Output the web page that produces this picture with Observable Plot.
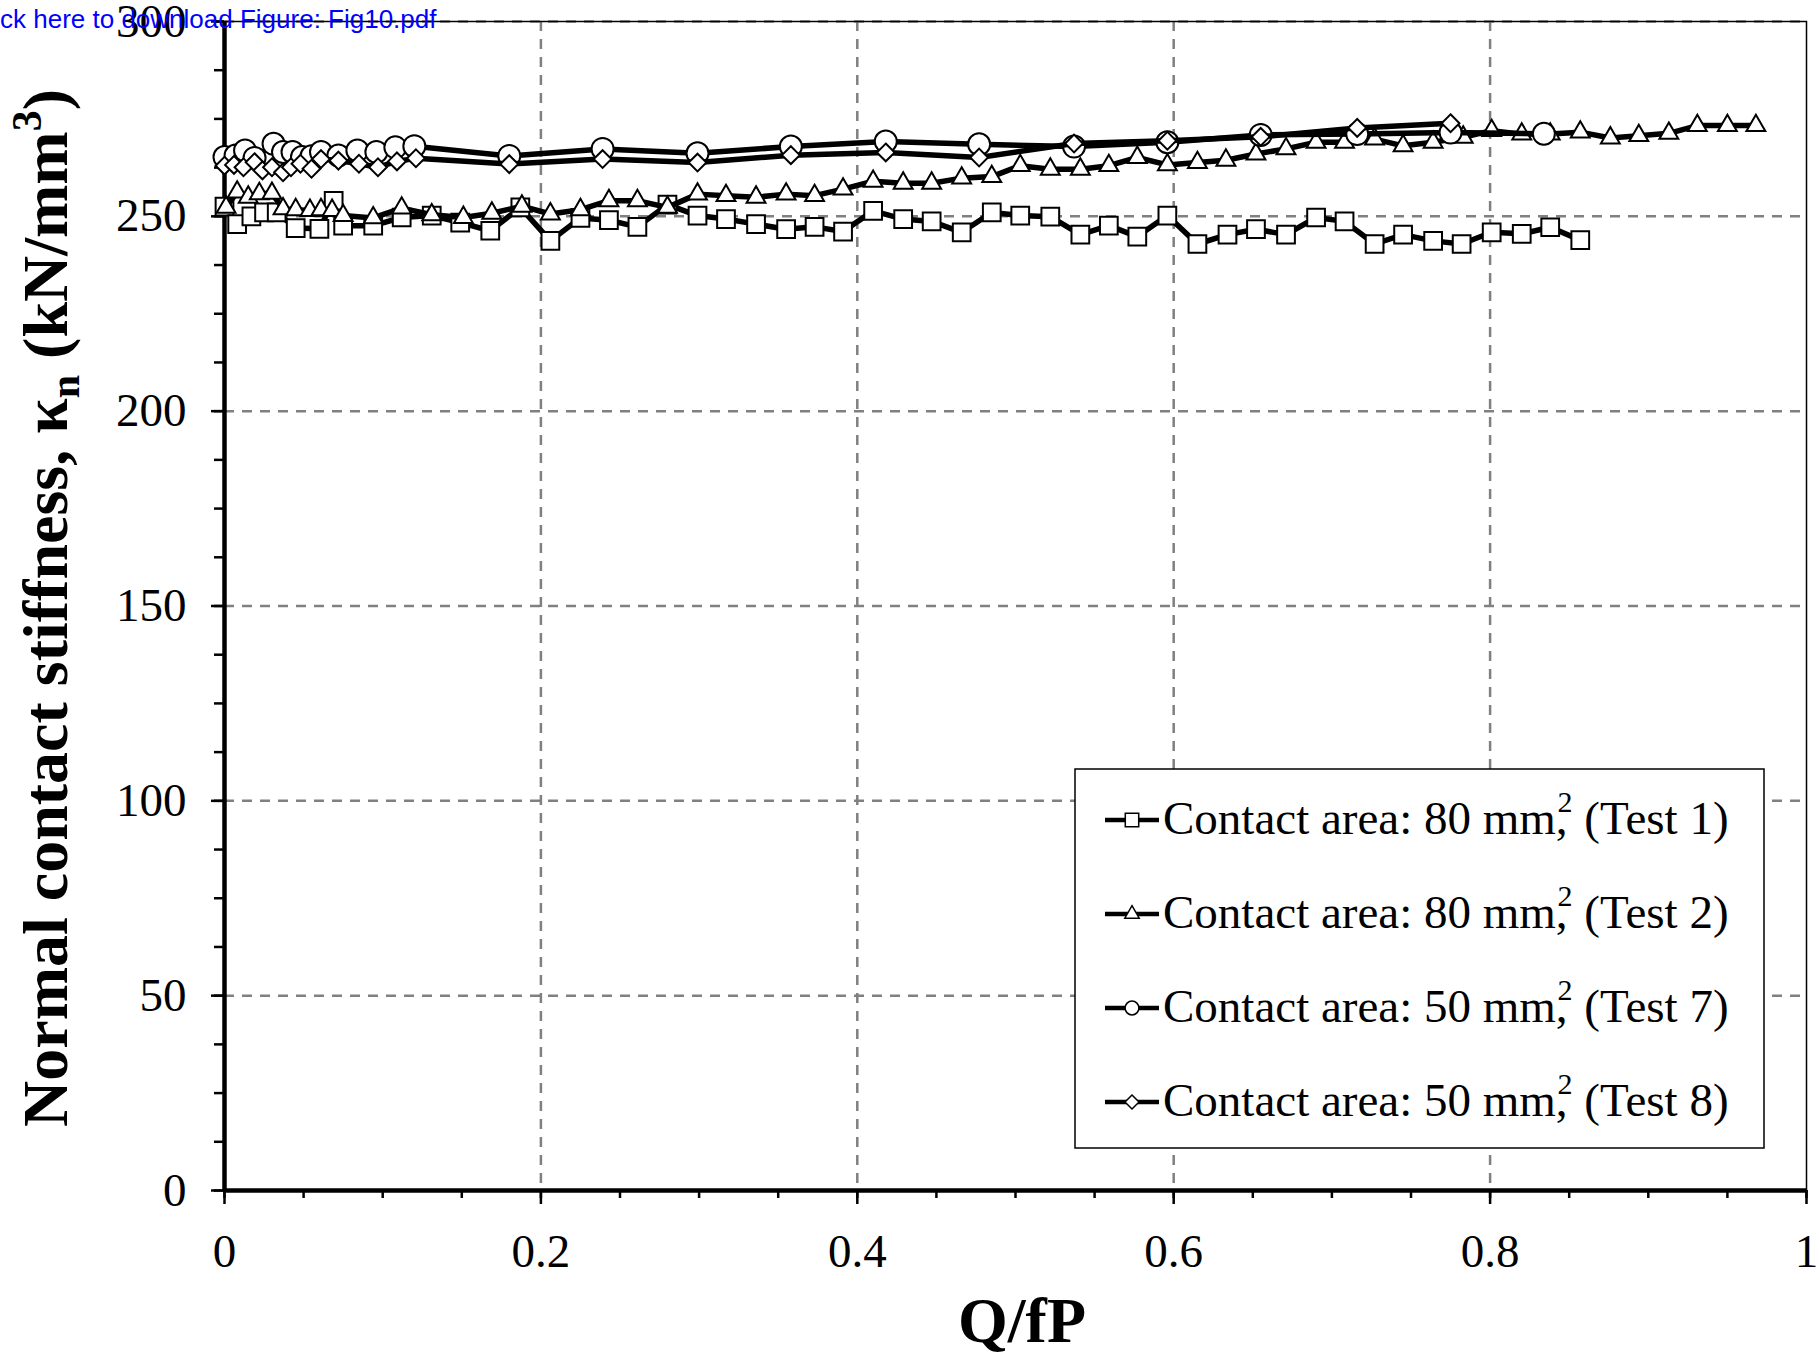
<!DOCTYPE html>
<html><head><meta charset="utf-8">
<script src="https://cdn.jsdelivr.net/npm/d3@7"></script>
<script src="https://cdn.jsdelivr.net/npm/@observablehq/plot@0.6"></script>
<style>
html,body{margin:0;padding:0;background:#fff;}
#wrap{position:relative;width:1819px;height:1355px;overflow:hidden;background:#fff;}
#link{position:absolute;left:0;top:6px;font-family:"Liberation Sans",Arial,sans-serif;font-size:26px;color:#0000ff;white-space:nowrap;line-height:1;z-index:2;}
#wrap svg{position:absolute;left:0;top:0;}
</style></head><body>
<div id="wrap"><div id="link">ck here to download Figure: Fig10.pdf</div></div>
<script>
// ---- data (Q/fP, normal contact stiffness kN/mm^3) ----
const q1 = [0.000,0.008,0.017,0.025,0.033,0.045,0.060,0.069,0.075,0.094,0.112,0.131,0.149,0.168,0.187,0.206,0.225,0.243,0.261,0.280,0.299,0.317,0.336,0.355,0.373,0.391,0.410,0.429,0.447,0.466,0.485,0.503,0.522,0.541,0.559,0.577,0.596,0.615,0.634,0.652,0.671,0.690,0.708,0.727,0.745,0.764,0.782,0.801,0.820,0.838,0.857];
const k1 = [252.5,248.0,250.0,251.0,251.0,247.0,246.8,254.0,247.6,247.6,249.7,250.2,248.4,246.3,252.3,243.7,249.6,249.0,247.3,253.0,250.2,249.3,248.0,246.7,247.3,246.1,251.4,249.3,248.7,245.9,251.0,250.2,249.9,245.3,247.6,244.8,250.2,242.9,245.3,246.7,245.3,249.7,248.7,242.9,245.3,243.7,242.9,245.9,245.5,247.2,243.9];

const q2 = [0.001,0.008,0.015,0.022,0.030,0.037,0.045,0.054,0.061,0.068,0.075,0.094,0.112,0.131,0.151,0.169,0.188,0.206,0.225,0.243,0.261,0.280,0.299,0.317,0.336,0.355,0.373,0.391,0.410,0.429,0.447,0.466,0.485,0.503,0.522,0.541,0.559,0.577,0.596,0.615,0.633,0.652,0.671,0.690,0.708,0.727,0.745,0.764,0.783,0.801,0.820,0.838,0.857,0.876,0.894,0.913,0.931,0.950,0.968];
const k2 = [252.3,256.2,254.9,255.8,255.9,251.9,251.7,251.5,251.7,251.5,250.2,249.6,252.1,250.4,249.7,250.8,252.6,250.6,251.7,254.0,254.0,252.3,255.7,255.3,254.9,255.7,255.3,257.0,259.0,258.5,258.5,259.8,260.2,263.0,262.1,262.1,263.0,265.1,263.2,263.8,264.4,266.0,267.3,269.0,269.0,269.8,268.1,269.0,270.3,272.0,271.1,271.1,271.6,270.1,270.7,271.3,273.3,273.3,273.3];

const q7 = [0.000,0.007,0.013,0.019,0.031,0.037,0.043,0.049,0.055,0.061,0.072,0.084,0.096,0.108,0.120,0.180,0.239,0.299,0.358,0.418,0.477,0.537,0.596,0.655,0.716,0.775,0.834];
const k7 = [265.2,265.6,266.9,265.0,268.6,266.5,266.5,265.2,265.4,266.5,265.6,266.9,266.5,267.7,268.0,265.5,267.3,266.2,267.9,269.2,268.5,267.9,269.0,270.9,271.1,271.5,271.2];

const q8 = [0.000,0.006,0.012,0.019,0.024,0.030,0.037,0.042,0.048,0.055,0.061,0.072,0.085,0.097,0.109,0.121,0.180,0.239,0.299,0.358,0.418,0.477,0.537,0.596,0.655,0.716,0.775];
const k8 = [263.0,263.2,262.6,263.9,261.8,262.6,261.3,262.6,263.5,262.2,264.7,264.3,263.5,262.6,264.1,264.9,263.4,264.7,263.8,265.7,266.4,265.1,268.7,269.4,270.4,272.7,273.9];

const testNames = ["Test 1","Test 2","Test 7","Test 8"];
const areas = [80,80,50,50];
const symbols = ["square","triangle","circle","diamond2"];
const xTicks = [0,0.2,0.4,0.6,0.8,1];
const yTicks = [0,50,100,150,200,250,300];
const xGrid = [0.2,0.4,0.6,0.8];
const yGrid = [50,100,150,200,250,300];
const xMinor = d3.range(0,1.0001,0.05);
const yMinor = d3.range(0,300.001,12.5);

// ---- styling ----
const symbolR = [10,7,11,8];
const qs = [q1,q2,q7,q8], ks = [k1,k2,k7,k8];
const serif = '"Liberation Serif","Times New Roman",serif';

const marks = [
  Plot.gridX({ticks: xGrid, stroke: "#808080", strokeOpacity: 1, strokeWidth: 2.5, strokeDasharray: "10,8"}),
  Plot.gridY({ticks: yGrid, stroke: "#808080", strokeOpacity: 1, strokeWidth: 2.5, strokeDasharray: "10,8"}),
  Plot.frame({stroke: "black", strokeWidth: 1.5}),
  Plot.axisX({ticks: xMinor, tickSize: 8, text: null, strokeWidth: 2.5}),
  Plot.axisY({ticks: yMinor, tickSize: 10, text: null, strokeWidth: 2.5}),
  Plot.axisX({ticks: xTicks, tickSize: 14, tickPadding: 29, strokeWidth: 2.5, fontSize: 47, label: null,
    tickFormat: d => String(d)}),
  Plot.axisY({ticks: yTicks, tickSize: 13, tickPadding: 25, strokeWidth: 2.5, fontSize: 47, label: null,
    tickFormat: d => String(d)}),
  Plot.ruleX([0], {stroke: "black", strokeWidth: 4.5}),
  Plot.ruleY([0], {stroke: "black", strokeWidth: 4.5})
];
testNames.forEach((name, i) => {
  const data = qs[i].map((q, j) => ({q, k: ks[i][j]}));
  marks.push(Plot.line(data, {x: "q", y: "k", stroke: "black", strokeWidth: 5.5, strokeLinejoin: "round"}));
  marks.push(Plot.dot(data, {x: "q", y: "k", symbol: symbols[i], r: symbolR[i], fill: "white", stroke: "black", strokeWidth: 2}));
});

const chart = Plot.plot({
  width: 1819,
  height: 1355,
  marginLeft: 224,
  marginRight: 13,
  marginTop: 21,
  marginBottom: 165,
  style: {fontFamily: serif, fontSize: "47px", background: "white", color: "black", overflow: "visible"},
  x: {domain: [0, 1], label: null},
  y: {domain: [0, 300], label: null},
  marks
});
document.getElementById("wrap").appendChild(chart);

const svg = d3.select(chart);

// axis titles
svg.append("text")
  .attr("x", 1022).attr("y", 1342)
  .attr("text-anchor", "middle")
  .attr("font-family", serif).attr("font-weight", "bold").attr("font-size", 64)
  .attr("fill", "black").text("Q/fP");

const yl = svg.append("text")
  .attr("transform", "translate(67,608) rotate(-90)")
  .attr("text-anchor", "middle")
  .attr("font-family", serif).attr("font-weight", "bold").attr("font-size", 64)
  .attr("fill", "black");
yl.append("tspan").text("Normal contact stiffness, κ");
yl.append("tspan").attr("font-size", 42).attr("dy", 12).text("n");
yl.append("tspan").attr("dy", -12).text(" (kN/mm");
yl.append("tspan").attr("font-size", 42).attr("dy", -26).text("3");
yl.append("tspan").attr("dy", 26).text(")");

// legend
const lg = svg.append("g");
lg.append("rect").attr("x", 1075).attr("y", 769).attr("width", 689).attr("height", 379)
  .attr("fill", "white").attr("stroke", "black").attr("stroke-width", 1.5);
const legSym = {square: d3.symbolSquare, triangle: d3.symbolTriangle, circle: d3.symbolCircle, diamond2: d3.symbolDiamond2};
const legSize = [180, 90, 150, 125];
testNames.forEach((name, i) => {
  const cy = 820 + i * 94;
  lg.append("line").attr("x1", 1105).attr("x2", 1159).attr("y1", cy).attr("y2", cy)
    .attr("stroke", "black").attr("stroke-width", 4.5);
  lg.append("path").attr("d", d3.symbol(legSym[symbols[i]], legSize[i])())
    .attr("transform", `translate(1132,${cy})`)
    .attr("fill", "white").attr("stroke", "black").attr("stroke-width", 1.5);
  const t = lg.append("text").attr("x", 1163).attr("y", cy + 14)
    .attr("text-anchor", "start")
    .attr("font-family", serif).attr("font-size", 47).attr("fill", "black");
  t.append("tspan").text(`Contact area: ${areas[i]} mm,`);
  t.append("tspan").attr("font-size", 30).attr("dx", -10).attr("dy", -22).text("2");
  t.append("tspan").attr("dy", 22).text(` (${name})`);
});
</script>
</body></html>
